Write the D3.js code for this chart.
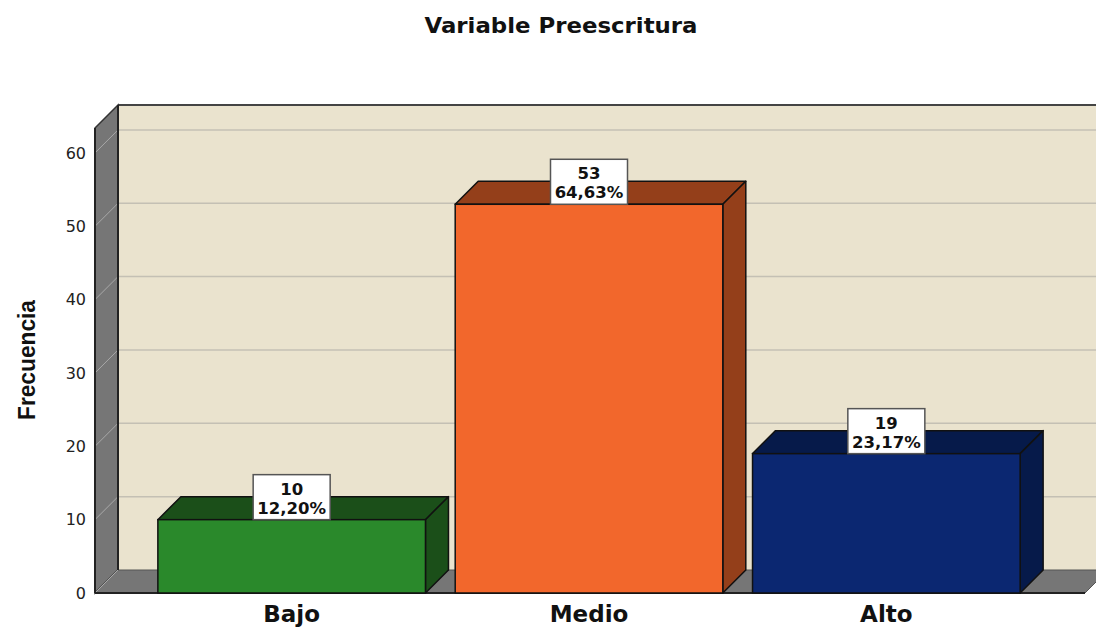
<!DOCTYPE html>
<html>
<head>
<meta charset="utf-8">
<script src="https://cdn.jsdelivr.net/npm/d3@7"></script>
<style>
  html, body { margin: 0; padding: 0; background: #fff; }
  svg { display: block; }
</style>
</head>
<body>
<svg id="chart" width="1096" height="627"></svg>
<script>
const categories = ["Bajo", "Medio", "Alto"];
const counts = [10, 53, 19];
const percents = ["12,20%", "64,63%", "23,17%"];
const tickValues = [0, 10, 20, 30, 40, 50, 60];
const frontColors = ["#2a892b", "#f2672c", "#0b2771"];
const darkColors = ["#1b4f19", "#943f1a", "#061a4a"];

const svg = d3.select("#chart");
const W = 1096, H = 627;
const D = 23; // depth offset
const plotLeft = 95, plotRight = 1085;
const y = d3.scaleLinear().domain([0, 63.4]).range([593, 128]);
const x = d3.scaleBand().domain(categories).range([143, 1035]).paddingInner(0.1).paddingOuter(0.05);
const y0 = y(0);
const yTop = y.range()[1];

// back wall
svg.append("rect").attr("x", plotLeft + D).attr("y", yTop - D)
  .attr("width", plotRight + D - (plotLeft + D)).attr("height", y0 - yTop)
  .attr("fill", "#eae3ce");
// back wall grid lines
svg.append("g").selectAll("line").data(tickValues.filter(v => v > 0)).join("line")
  .attr("x1", plotLeft + D).attr("x2", plotRight + D)
  .attr("y1", d => y(d) - D).attr("y2", d => y(d) - D)
  .attr("stroke", "#c4c0b4").attr("stroke-width", 1.5);
// top edge of back wall
svg.append("line").attr("x1", plotLeft + D).attr("x2", W).attr("y1", yTop - D).attr("y2", yTop - D)
  .attr("stroke", "#444").attr("stroke-width", 2);

// left wall
svg.append("polygon")
  .attr("points", [[plotLeft, yTop], [plotLeft + D, yTop - D], [plotLeft + D, y0 - D], [plotLeft, y0]].join(" "))
  .attr("fill", "#767676").attr("stroke", "#333").attr("stroke-width", 1.5);
// left wall grid diagonals
svg.append("g").selectAll("line").data(tickValues).join("line")
  .attr("x1", plotLeft).attr("x2", plotLeft + D)
  .attr("y1", d => y(d)).attr("y2", d => y(d) - D)
  .attr("stroke", "#a8a8a8").attr("stroke-width", 1);

// floor
svg.append("polygon")
  .attr("points", [[plotLeft, y0], [plotLeft + D, y0 - D], [plotRight + D, y0 - D], [plotRight, y0]].join(" "))
  .attr("fill", "#767676").attr("stroke", "#555").attr("stroke-width", 1);
svg.append("line").attr("x1", plotLeft).attr("y1", y0).attr("x2", plotLeft + D).attr("y2", y0 - D)
  .attr("stroke", "#a8a8a8").attr("stroke-width", 1);
// back corner line
svg.append("line").attr("x1", plotLeft + D).attr("x2", plotLeft + D).attr("y1", yTop - D).attr("y2", y0 - D)
  .attr("stroke", "#222").attr("stroke-width", 2);
// front floor edge and front axis edge
svg.append("line").attr("x1", plotLeft).attr("x2", plotRight).attr("y1", y0).attr("y2", y0)
  .attr("stroke", "#222").attr("stroke-width", 2);
svg.append("line").attr("x1", plotLeft).attr("x2", plotLeft).attr("y1", yTop).attr("y2", y0)
  .attr("stroke", "#222").attr("stroke-width", 2);

const labelFont = "'DejaVu Sans', Verdana, sans-serif";

// bars
const bars = svg.append("g").selectAll("g").data(categories).join("g");
bars.each(function(c, i) {
  const g = d3.select(this);
  const x0 = x(c), x1 = x(c) + x.bandwidth();
  const yt = y(counts[i]);
  g.append("polygon")
    .attr("points", [[x0, yt], [x0 + D, yt - D], [x1 + D, yt - D], [x1, yt]].join(" "))
    .attr("fill", darkColors[i]).attr("stroke", "#111").attr("stroke-width", 1.5).attr("stroke-linejoin", "round");
  g.append("polygon")
    .attr("points", [[x1, yt], [x1 + D, yt - D], [x1 + D, y0 - D], [x1, y0]].join(" "))
    .attr("fill", darkColors[i]).attr("stroke", "#111").attr("stroke-width", 1.5).attr("stroke-linejoin", "round");
  g.append("rect").attr("x", x0).attr("y", yt).attr("width", x1 - x0).attr("height", y0 - yt)
    .attr("fill", frontColors[i]).attr("stroke", "#111").attr("stroke-width", 1.5);
  // label box
  const cx = x(c) + x.bandwidth() / 2;
  const bw = 77, bh = 45;
  g.append("rect").attr("x", cx - bw / 2).attr("y", yt - bh).attr("width", bw).attr("height", bh)
    .attr("fill", "#fff").attr("stroke", "#555").attr("stroke-width", 1.5);
  g.append("text").attr("x", cx).attr("y", yt - bh + 20).attr("text-anchor", "middle")
    .attr("font-family", labelFont).attr("font-weight", "bold").attr("font-size", 16.5)
    .attr("fill", "#111").text(counts[i]);
  g.append("text").attr("x", cx).attr("y", yt - bh + 39).attr("text-anchor", "middle")
    .attr("font-family", labelFont).attr("font-weight", "bold").attr("font-size", 16.5)
    .attr("fill", "#111").text(percents[i]);
});

// y axis tick labels
const yAxis = d3.axisLeft(y).tickValues(tickValues).tickSize(0).tickPadding(9).tickFormat(d3.format("d"));
const ga = svg.append("g").attr("transform", `translate(${plotLeft},0)`).call(yAxis);
ga.select(".domain").remove();
ga.selectAll("text").attr("font-family", labelFont).attr("font-size", 16).attr("fill", "#222");

// x axis labels
const xAxis = d3.axisBottom(x).tickSize(0).tickPadding(13);
const gx = svg.append("g").attr("transform", `translate(0,${y0})`).call(xAxis);
gx.select(".domain").remove();
gx.selectAll("text").attr("font-family", labelFont).attr("font-weight", "bold")
  .attr("font-size", 23).attr("fill", "#111");

// title
svg.append("text").attr("x", 561).attr("y", 33).attr("text-anchor", "middle")
  .attr("font-family", labelFont).attr("font-weight", "bold").attr("font-size", 22)
  .attr("textLength", 273).attr("lengthAdjust", "spacingAndGlyphs")
  .attr("fill", "#111").text("Variable Preescritura");

// y label
svg.append("text").attr("transform", "translate(35,360) rotate(-90)").attr("text-anchor", "middle")
  .attr("font-family", "'Liberation Sans', Arial, sans-serif").attr("font-weight", "bold").attr("font-size", 23)
  .attr("textLength", 120).attr("lengthAdjust", "spacingAndGlyphs")
  .attr("fill", "#111").text("Frecuencia");
</script>
</body>
</html>
